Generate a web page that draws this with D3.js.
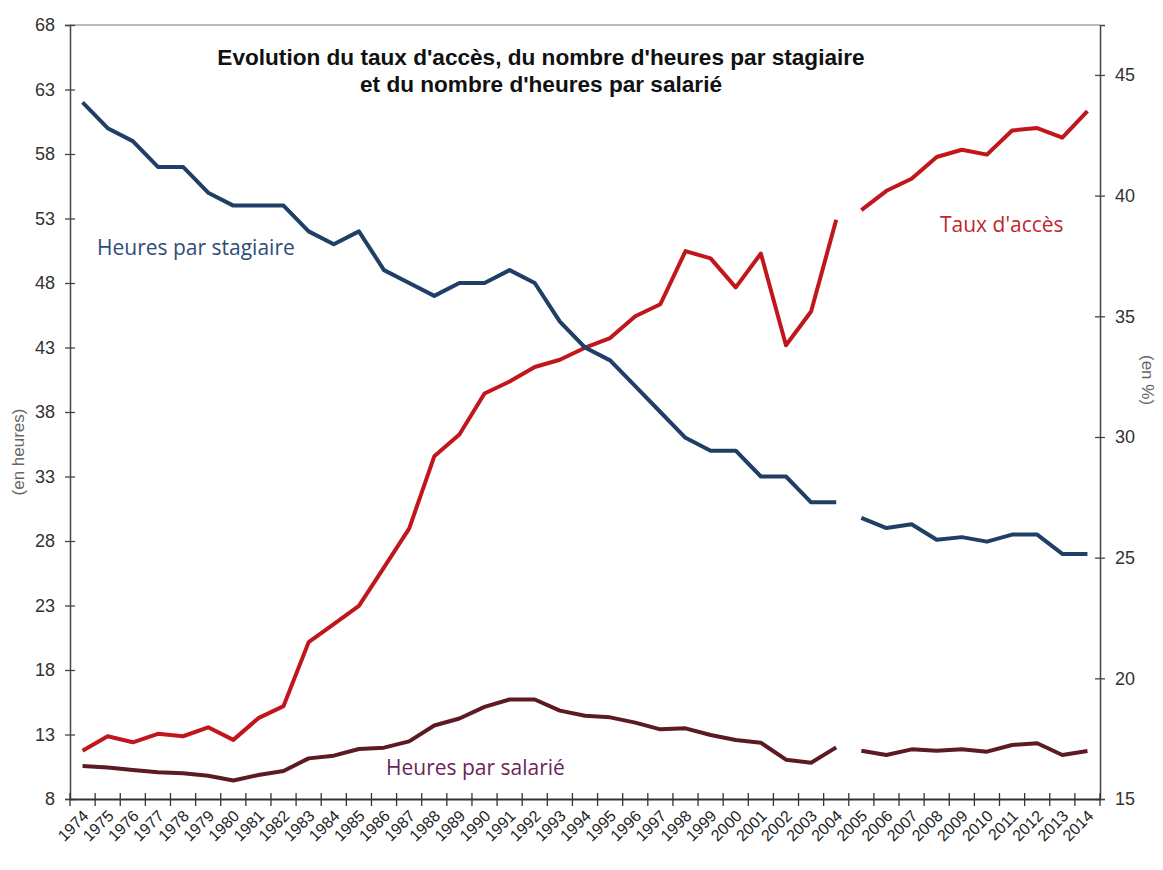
<!DOCTYPE html>
<html>
<head>
<meta charset="utf-8">
<script src="https://cdn.jsdelivr.net/npm/d3@7"></script>
<style>
  body { margin: 0; background: #fff; }
  .tick text { font-family: "Liberation Sans", Arial, sans-serif; fill: #333; }
</style>
</head>
<body>
<svg id="chart" width="1163" height="870"></svg>
<script>
// categories (years)
var years = ["1974","1975","1976","1977","1978","1979","1980","1981","1982","1983","1984","1985","1986",
             "1987","1988","1989","1990","1991","1992","1993","1994","1995","1996","1997","1998","1999",
             "2000","2001","2002","2003","2004","2005","2006","2007","2008","2009","2010","2011","2012",
             "2013","2014"];

// heures par stagiaire (left axis, en heures)
var heuresStagiaire = [62,60,59,57,57,55,54,54,54,52,51,52,49,
                       48,47,48,48,49,48,45,43,42,40,38,36,35,
                       35,33,33,31,31,29.8,29.0,29.3,28.1,28.3,27.95,28.5,28.5,
                       27.0,27.0];

// heures par salarié (left axis, en heures)
var heuresSalarie = [10.56,10.45,10.25,10.07,10.0,9.8,9.43,9.86,10.17,11.15,11.36,11.88,11.98,
                     12.47,13.7,14.24,15.14,15.71,15.71,14.85,14.46,14.33,13.92,13.4,13.48,12.96,
                     12.57,12.36,11.05,10.81,12.0,11.74,11.41,11.85,11.74,11.85,11.67,12.19,12.32,
                     11.41,11.72];

// taux d'accès (right axis, en %)
var tauxAcces = [17.0,17.6,17.35,17.7,17.6,17.97,17.45,18.35,18.85,21.5,22.25,23.0,24.6,
                 26.2,29.2,30.1,31.8,32.3,32.9,33.2,33.7,34.1,35.0,35.5,37.7,37.4,
                 36.2,37.6,33.8,35.2,39.0,39.4,40.2,40.7,41.6,41.9,41.7,42.7,42.8,
                 42.4,43.5];

// series are interrupted between these two years
var breakAfter = "2004";

var leftTicks = [8,13,18,23,28,33,38,43,48,53,58,63,68];
var rightTicks = [15,20,25,30,35,40,45];

var margin = {top: 25, right: 63, bottom: 71, left: 70},
    width = 1163 - margin.left - margin.right,
    height = 870 - margin.top - margin.bottom;

var svg = d3.select("#chart")
    .append("g")
    .attr("transform", "translate(" + margin.left + "," + margin.top + ")");

var xScale = d3.scaleBand()
    .domain(years)
    .range([0, width])
    .padding(0);

var yLeft = d3.scaleLinear()
    .domain([8, 68])
    .range([height, 0]);

var yRight = d3.scaleLinear()
    .domain([15, 47.07])
    .range([height, 0]);

function cx(d) { return xScale(d.year) + xScale.bandwidth() / 2; }

// top frame line
svg.append("line")
    .attr("x1", 0).attr("x2", width)
    .attr("y1", 0).attr("y2", 0)
    .style("stroke", "#777")
    .style("stroke-width", 1.2);

// left axis
var gLeft = svg.append("g")
    .attr("class", "y axis")
    .attr("font-size", 18)
    .call(d3.axisLeft(yLeft).tickValues(leftTicks).tickSize(5).tickPadding(10));
gLeft.selectAll(".tick line").attr("x1", 5).attr("x2", -5).style("stroke", "#444").style("stroke-width", 1.3);
gLeft.select(".domain").style("stroke", "#444").style("stroke-width", 1.5);
gLeft.selectAll(".tick text").style("font-size", "18px");

// right axis
var gRight = svg.append("g")
    .attr("class", "y axis")
    .attr("transform", "translate(" + width + ",0)")
    .call(d3.axisRight(yRight).tickValues(rightTicks).tickSize(5).tickPadding(10));
gRight.selectAll(".tick line").attr("x1", -5).attr("x2", 5).style("stroke", "#444").style("stroke-width", 1.3);
gRight.select(".domain").style("stroke", "#444").style("stroke-width", 1.5);
gRight.selectAll(".tick text").style("font-size", "18px");

// bottom axis: labels at category centres, ticks between categories
var gX = svg.append("g")
    .attr("class", "x axis")
    .attr("transform", "translate(0," + height + ")")
    .call(d3.axisBottom(xScale).tickSize(0).tickPadding(0));
gX.select(".domain").style("stroke", "#333").style("stroke-width", 1.8);
gX.selectAll(".tick text")
    .style("font-size", "16px")
    .style("fill", "#222")
    .style("text-anchor", "end")
    .attr("dy", 0)
    .attr("y", 0)
    .attr("transform", "translate(7,18) rotate(-45)");

var boundaries = years.map(function(d) { return xScale(d); }).concat([width]);
gX.selectAll(".cat-tick")
    .data(boundaries)
    .enter().append("line")
    .attr("class", "cat-tick")
    .attr("x1", function(d) { return d; })
    .attr("x2", function(d) { return d; })
    .attr("y1", -6)
    .attr("y2", 7)
    .style("stroke", "#333")
    .style("stroke-width", 1.3);

// axis titles
svg.append("text")
    .attr("transform", "translate(" + (24 - margin.left) + "," + (452 - margin.top) + ") rotate(-90)")
    .style("text-anchor", "middle")
    .style("font-family", "Liberation Sans, Arial, sans-serif")
    .style("font-size", "17px")
    .style("fill", "#666")
    .text("(en heures)");

svg.append("text")
    .attr("transform", "translate(" + (1142 - margin.left) + "," + (380 - margin.top) + ") rotate(90)")
    .style("text-anchor", "middle")
    .style("font-family", "Liberation Sans, Arial, sans-serif")
    .style("font-size", "17px")
    .style("fill", "#666")
    .text("(en %)");

// build segments split at the break
function segments(values) {
    var pts = years.map(function(y, i) { return {year: y, value: values[i]}; });
    var cut = years.indexOf(breakAfter) + 1;
    return [pts.slice(0, cut), pts.slice(cut)];
}

var series = [
    {name: "taux", values: tauxAcces, scale: yRight, color: "#c1161c"},
    {name: "stagiaire", values: heuresStagiaire, scale: yLeft, color: "#1f3f66"},
    {name: "salarie", values: heuresSalarie, scale: yLeft, color: "#5b1a24"}
];

series.forEach(function(s) {
    var line = d3.line()
        .x(cx)
        .y(function(d) { return s.scale(d.value); });
    svg.selectAll(".line-" + s.name)
        .data(segments(s.values))
        .enter().append("path")
        .attr("class", "line-" + s.name)
        .attr("d", line)
        .style("fill", "none")
        .style("stroke", s.color)
        .style("stroke-width", 4)
        .style("stroke-linejoin", "round");
});

// title
var title = svg.append("text")
    .attr("x", 541 - margin.left)
    .attr("y", 65 - margin.top)
    .style("text-anchor", "middle")
    .style("font-family", "Liberation Sans, Arial, sans-serif")
    .style("font-weight", "bold")
    .style("font-size", "22.6px")
    .style("fill", "#111");
title.append("tspan").attr("x", 541 - margin.left).text("Evolution du taux d'accès, du nombre d'heures par stagiaire");
title.append("tspan").attr("x", 541 - margin.left).attr("dy", 27).text("et du nombre d'heures par salarié");

// series labels
var labels = [
    {text: "Heures par stagiaire", x: 97, y: 255, color: "#2d4d78"},
    {text: "Taux d'accès", x: 940, y: 232, color: "#c0272d"},
    {text: "Heures par salarié", x: 386, y: 775, color: "#6a2558"}
];

svg.selectAll(".series-label")
    .data(labels)
    .enter().append("text")
    .attr("class", "series-label")
    .attr("x", function(d) { return d.x - margin.left; })
    .attr("y", function(d) { return d.y - margin.top; })
    .style("font-family", "Open Sans, sans-serif")
    .style("font-size", "21px")
    .style("fill", function(d) { return d.color; })
    .text(function(d) { return d.text; });
</script>
</body>
</html>
